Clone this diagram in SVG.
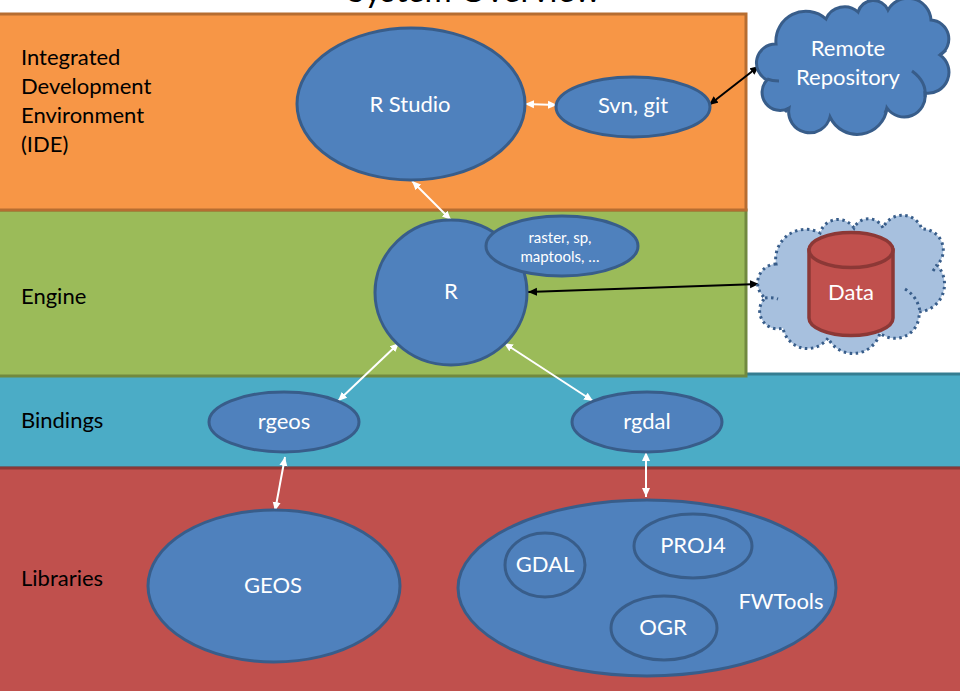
<svg xmlns="http://www.w3.org/2000/svg" width="960" height="691" viewBox="0 0 960 691">
<style>
text{font-family:"Lato","Open Sans",sans-serif;font-size:22px}
.w{fill:#fff;text-anchor:middle}
.k{fill:#000}
.n{fill:#4f81bd;stroke:#385d8a;stroke-width:3}
.s{font-size:15px}
.ln{fill:none;stroke-width:2}
.wl{stroke:#fff;marker-start:url(#aw);marker-end:url(#aw)}
.bl{stroke:#000;marker-start:url(#ab);marker-end:url(#ab)}
</style>
<defs>
<marker id="aw" markerUnits="userSpaceOnUse" markerWidth="11" markerHeight="9" refX="9" refY="4.5" orient="auto-start-reverse"><path d="M0 0.5L9 4.5L0 8.500Z" fill="#fff"/></marker>
<marker id="ab" markerUnits="userSpaceOnUse" markerWidth="11" markerHeight="9" refX="9" refY="4.5" orient="auto-start-reverse"><path d="M0 0.5L9 4.5L0 8.500Z" fill="#000"/></marker>
</defs>
<rect width="960" height="691" fill="#fff"/>
<text id="title" x="474" y="2" class="k" text-anchor="middle" style="font-size:33px">System Overview</text>
<g id="band-bindings"><rect x="-3" y="374" width="966" height="94" fill="#4bacc6" stroke="#357d91" stroke-width="3"/><text x="21" y="428" class="k">Bindings</text></g>
<g id="band-libraries"><rect x="-3" y="468" width="966" height="226" fill="#c0504d" stroke="#8c3836" stroke-width="3"/><text x="21" y="586" class="k">Libraries</text></g>
<g id="band-engine"><rect x="-3" y="210" width="749" height="166" fill="#9bbb59" stroke="#71893f" stroke-width="3"/><text x="21" y="304" class="k">Engine</text></g>
<g id="band-ide"><rect x="-3" y="14" width="749" height="196" fill="#f79646" stroke="#b66d31" stroke-width="3"/><text x="21" y="65" class="k">Integrated</text><text x="21" y="94" class="k">Development</text><text x="21" y="123" class="k">Environment</text><text x="21" y="152" class="k">(IDE)</text></g>
<g id="connectors">
<line class="ln wl" x1="525" y1="104" x2="557" y2="105"/>
<line class="ln wl" x1="412" y1="181" x2="451" y2="220"/>
<line class="ln wl" x1="399" y1="343" x2="338" y2="401"/>
<line class="ln wl" x1="504" y1="343" x2="593" y2="401"/>
<line class="ln wl" x1="285" y1="457" x2="275" y2="511"/>
<line class="ln wl" x1="646" y1="452" x2="646" y2="497"/>
<line class="ln bl" x1="709" y1="105" x2="759" y2="66"/>
<line class="ln bl" x1="528" y1="292" x2="759" y2="284"/>
</g>
<g id="r-studio"><ellipse class="n" cx="411" cy="104" rx="114" ry="76"/><text class="w" x="410" y="112">R Studio</text></g>
<g id="svn-git"><ellipse class="n" cx="633" cy="107" rx="77" ry="30"/><text class="w" x="633" y="113">Svn, git</text></g>
<g id="r"><ellipse class="n" cx="451" cy="292.500" rx="76" ry="72.500"/><text class="w" x="451" y="299">R</text></g>
<g id="raster"><ellipse class="n" cx="562" cy="246" rx="76" ry="30"/><text class="w s" x="560" y="243">raster, sp,</text><text class="w s" x="560" y="262">maptools, …</text></g>
<g id="rgeos"><ellipse class="n" cx="284" cy="422" rx="75" ry="30"/><text class="w" x="284" y="429">rgeos</text></g>
<g id="rgdal"><ellipse class="n" cx="647" cy="422" rx="75" ry="30"/><text class="w" x="647" y="429">rgdal</text></g>
<g id="geos"><ellipse class="n" cx="274" cy="586" rx="126" ry="76"/><text class="w" x="273" y="593">GEOS</text></g>
<g id="fwtools"><ellipse class="n" cx="647" cy="588" rx="189" ry="88"/><text class="w" x="781" y="609">FWTools</text></g>
<g id="gdal"><ellipse class="n" cx="545" cy="565" rx="40" ry="32"/><text class="w" x="545" y="572">GDAL</text></g>
<g id="proj4"><ellipse class="n" cx="693" cy="546" rx="59" ry="32"/><text class="w" x="693" y="553">PROJ4</text></g>
<g id="ogr"><ellipse class="n" cx="664" cy="628" rx="53" ry="32"/><text class="w" x="663" y="635">OGR</text></g>
<g id="remote-repository">
<path fill="#4f81bd" stroke="#385d8a" stroke-width="3" d="M776 44A19 19 0 0 0 767 80A18 18 0 0 0 789 108A21 21 0 0 0 830 117A30 30 0 0 0 887 108A21 21 0 0 0 925 93A21 21 0 0 0 940 55A19 19 0 0 0 931 20A23 23 0 0 0 888 10A16 16 0 0 0 858 12A20 20 0 0 0 826 19A30 30 0 0 0 776 44Z"/>
<path fill="none" stroke="#385d8a" stroke-width="3" d="M767 79Q772 81 779 81M925 97Q927 82 912 71M946 50L940 55M789 108L785 112M887 108L885 113"/>
<text class="w" x="848" y="56">Remote</text><text class="w" x="848" y="85">Repository</text>
</g>
<g id="data-cloud">
<path fill="#a7c0de" stroke="#385d8a" stroke-width="3" stroke-dasharray="2.500 3.500" d="M776 264A19 19 0 0 0 765 298A18 18 0 0 0 783 328A25 25 0 0 0 828 338A28 28 0 0 0 880 333A24 24 0 0 0 919 312A28 28 0 0 0 937 265A21 21 0 0 0 922 229A21 21 0 0 0 883 228A16 16 0 0 0 854 228A19 19 0 0 0 820 233A30 30 0 0 0 776 264Z"/>
<path fill="none" stroke="#385d8a" stroke-width="3" stroke-dasharray="2.500 3.500" d="M765 298Q772 297 778 299M905 289Q917 296 920 311M933 271L937 265"/>
</g>
<g id="data">
<path fill="#c0504d" stroke="#8c3836" stroke-width="3.500" d="M809 250V318A42 17.500 0 0 0 893 318V250Z"/>
<ellipse cx="851" cy="250" rx="42" ry="17.500" fill="#c0504d" stroke="#8c3836" stroke-width="3.500"/>
<text class="w" x="851" y="300">Data</text>
</g>
</svg>
